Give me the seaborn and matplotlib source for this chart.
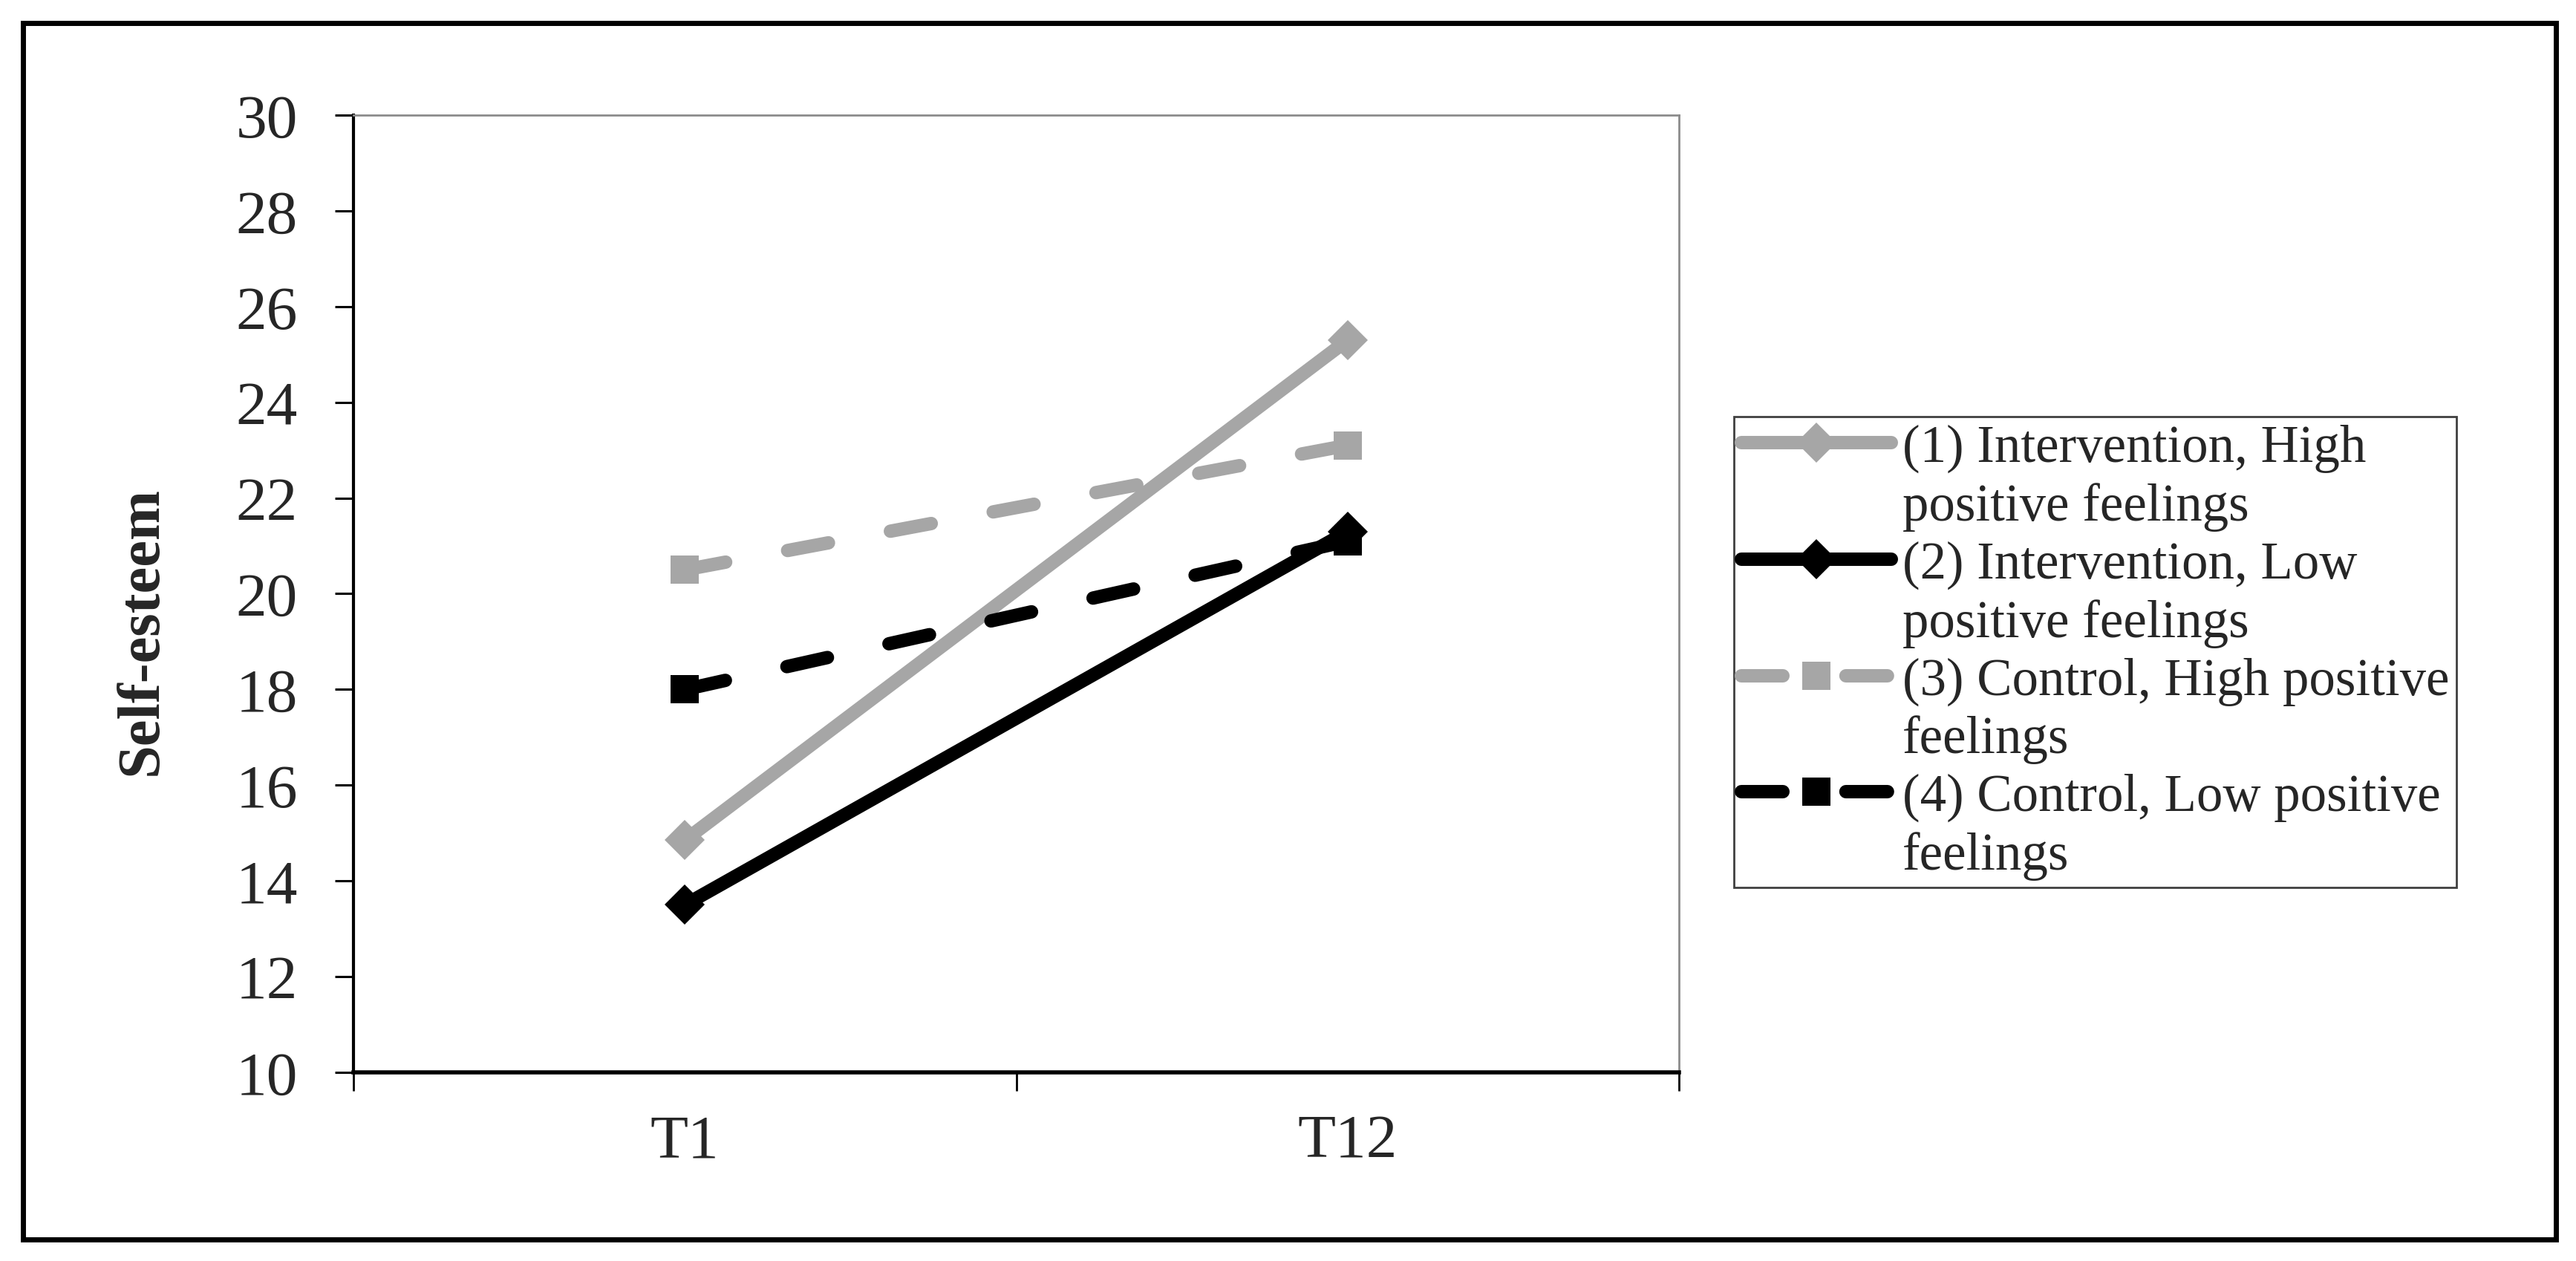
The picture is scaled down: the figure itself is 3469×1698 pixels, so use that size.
import pandas as pd
import matplotlib.pyplot as plt
import seaborn as sns
from matplotlib.lines import Line2D
from matplotlib.patches import Rectangle

# --------------------------
# DATA
# --------------------------
time_points = ["T1", "T12"]
legend_first = ["(1) Intervention, High", "(2) Intervention, Low",
                "(3) Control, High positive", "(4) Control, Low positive"]
legend_second = ["positive feelings", "positive feelings", "feelings", "feelings"]

interv_high = [14.85, 25.3]
interv_low = [13.5, 21.3]
control_high = [20.5, 23.1]
control_low = [18.0, 21.1]

groups = [a + " " + b for a, b in zip(legend_first, legend_second)]
series = [interv_high, interv_low, control_high, control_low]

rows = []
for g, vals in zip(groups, series):
    for t, v in zip(time_points, vals):
        rows.append({"group": g, "time": t, "score": v})
df = pd.DataFrame(rows)

# --------------------------
# STYLE
# --------------------------
sns.set_style("white")
plt.rcParams["font.family"] = ["Liberation Serif", "DejaVu Serif"]
plt.rcParams["lines.dash_capstyle"] = "round"

gray = "#A6A6A6"
palette = dict(zip(groups, [gray, "black", gray, "black"]))
markers = dict(zip(groups, ["D", "D", "s", "s"]))
dashes = dict(zip(groups, ["", "", (3.1, 4.7), (3.1, 4.7)]))

fig = plt.figure(figsize=(34.69, 16.99), dpi=100)
ax = fig.add_axes([0.1372, 0.1495, 0.5146, 0.7587])

sns.lineplot(data=df, x="time", y="score", hue="group", style="group",
             palette=palette, markers=markers, dashes=dashes,
             linewidth=13, markersize=27, markeredgewidth=0,
             errorbar=None, sort=False, legend=False, ax=ax)

for line in ax.lines:
    if line.get_marker() == "s":
        line.set_markersize(27)

# --------------------------
# AXES
# --------------------------
ax.set_ylim(10, 30)
ax.set_yticks(range(10, 31, 2))
ax.set_xlim(-0.5, 1.5)
ax.set_xticks([-0.5, 0.5, 1.5])
ax.set_xticklabels([])
ax.set_xticks([0, 1], minor=True)
ax.set_xticklabels(time_points, minor=True)
ax.tick_params(axis="x", which="major", direction="out", length=18, width=2, color="black", bottom=True)
ax.tick_params(axis="x", which="minor", length=0, pad=40, labelsize=60)
ax.tick_params(axis="y", direction="out", length=18, width=2.2, color="black", pad=36, labelsize=60, left=True)

ax.set_xlabel("")
ax.set_ylabel("Self-esteem", fontsize=58, fontweight="bold", va="center")
ax.yaxis.set_label_coords((191 - 476) / 1785, (1445 - 850) / 1289)

for side in ["top", "right"]:
    ax.spines[side].set_color("#8C8C8C")
    ax.spines[side].set_linewidth(2)
ax.spines["left"].set_color("black")
ax.spines["left"].set_linewidth(3)
ax.spines["bottom"].set_color("black")
ax.spines["bottom"].set_linewidth(4)

# --------------------------
# LEGEND (first line carries the handle)
# --------------------------
handles, labels = [], []
for h, a, b in zip(ax.lines[:4], legend_first, legend_second):
    handles += [h, Line2D([], [], linestyle="none")]
    labels += [a, b]

leg = fig.legend(handles, labels, loc="upper left",
                 bbox_to_anchor=(0.6731, 0.6692), bbox_transform=fig.transFigure,
                 fontsize=51, frameon=True, fancybox=False, framealpha=1,
                 edgecolor="#404040", borderpad=0.14, labelspacing=0.18,
                 handlelength=2.85, handletextpad=0.21, borderaxespad=0)
leg.get_frame().set_linewidth(2)

# outer frame around the whole figure
fig.patches.append(Rectangle((31 / 3469, 1 - 1670 / 1699), (3442 - 31) / 3469,
                             (1670 - 32) / 1699, transform=fig.transFigure,
                             fill=False, linewidth=5, edgecolor="black"))

fig.savefig("out.png", dpi=100, facecolor="white")
